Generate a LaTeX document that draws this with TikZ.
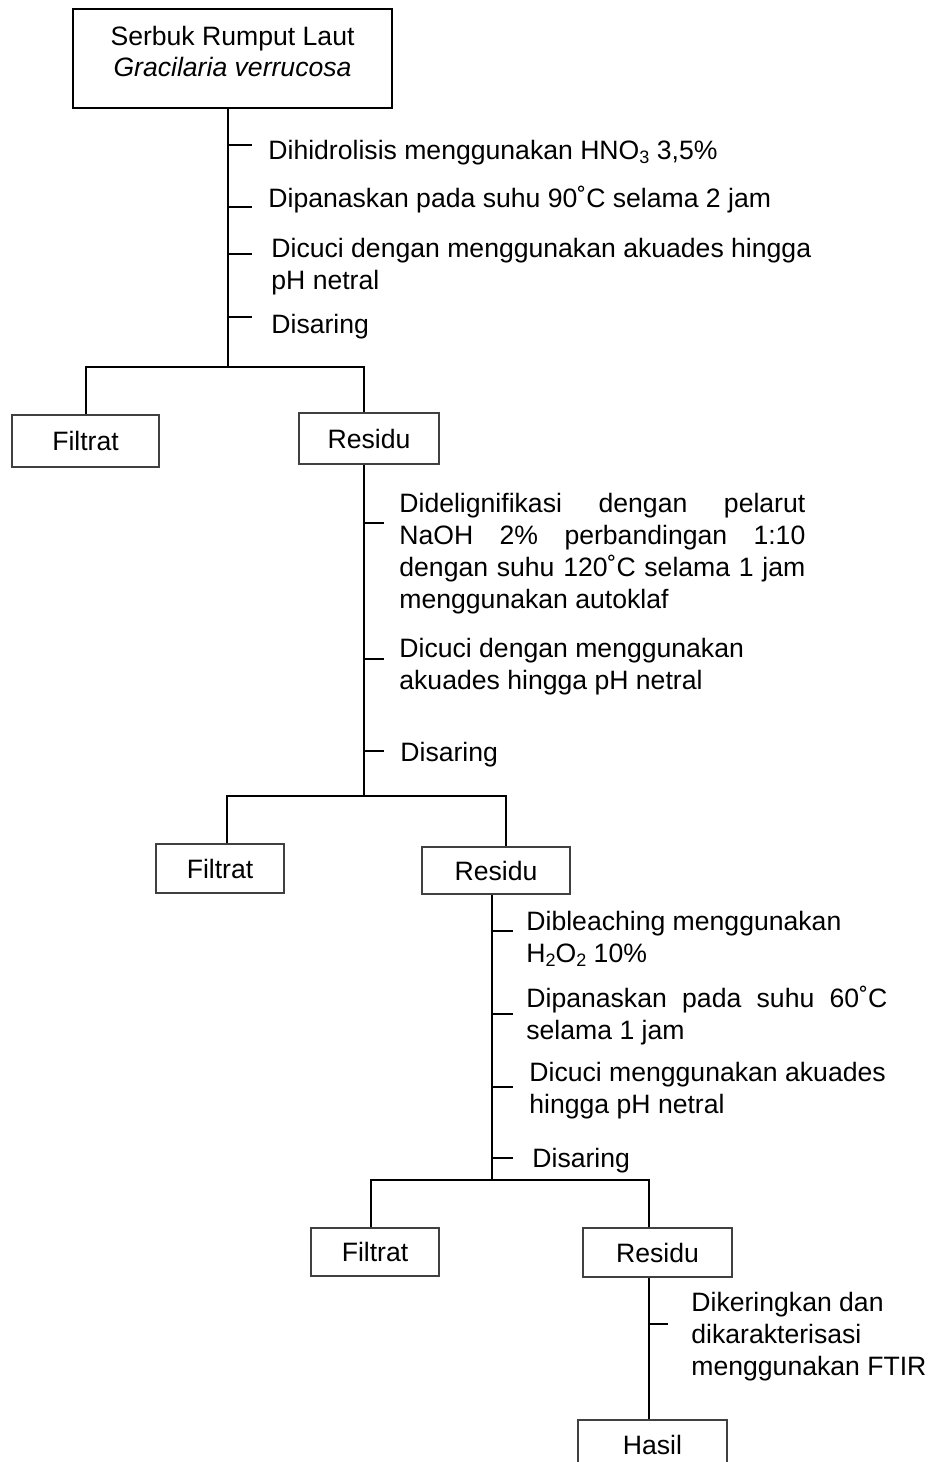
\documentclass[tikz,border=0pt]{standalone}
\usepackage{fontspec}
\setmainfont{Liberation Sans}
\usetikzlibrary{positioning, calc}
\tikzset{
  mainbox/.style={rectangle, draw=black, line width=1pt, minimum width=159.5pt, minimum height=49.5pt, align=center, font=\fontsize{13.3pt}{15.6pt}\selectfont},
  resultbox/.style={rectangle, draw=black!75, line width=0.6pt, minimum height=24.5pt, text centered, font=\fontsize{13.3pt}{16pt}\selectfont},
  stepnote/.style={anchor=west, inner sep=0pt, align=left, yshift=-1.5pt, font=\fontsize{13.3pt}{16pt}\selectfont},
  flowline/.style={line width=0.7pt, black},
}

\begin{document}
\begin{tikzpicture}[x=0.5pt, y=-0.5pt]
\useasboundingbox (0,0) rectangle (937,1462);

% boxes
\node[mainbox] (serbuk) at (232.5,58.5) {\raisebox{0pt}[\height][\dimexpr\depth+3.5pt\relax]{\begin{tabular}{@{}c@{}}Serbuk Rumput Laut\\\textit{Gracilaria verrucosa}\end{tabular}}};
\node[resultbox, minimum width=73.5pt, minimum height=26pt] (filtrat1) at (85.5,441) {Filtrat};
\node[resultbox, minimum width=70pt, minimum height=25.5pt] (residu1) at (369,438.5) {Residu};
\node[resultbox, minimum width=64pt] (filtrat2) at (220,868.5) {Filtrat};
\node[resultbox, minimum width=74pt, minimum height=23.5pt] (residu2) at (496,870.5) {Residu};
\node[resultbox, minimum width=64pt, minimum height=24pt] (filtrat3) at (375,1252) {Filtrat};
\node[resultbox, minimum width=74.5pt] (residu3) at (657.5,1252.5) {Residu};
\node[resultbox, minimum width=74.5pt] (hasil) at (652.5,1444.5) {Hasil};

% step notes
\node[stepnote] (hidrolisis) at (268,150) {Dihidrolisis menggunakan HNO{\fontsize{9pt}{9pt}\selectfont\raisebox{-2pt}{3}} 3,5\%};
\node[stepnote] (panas1) at (268,197) {Dipanaskan pada suhu 90˚C selama 2 jam};
\node[stepnote] (cuci1) at (271,263.5) {Dicuci dengan menggunakan akuades hingga\\pH netral};
\node[stepnote] (saring1) at (271,324) {Disaring};

\node[stepnote, text width=203pt, align=justify] (delignin) at (399,551) {Didelignifikasi dengan pelarut\linebreak NaOH 2\% perbandingan 1:10\linebreak dengan suhu 120˚C selama 1 jam\linebreak menggunakan autoklaf};
\node[stepnote] (cuci2) at (399,663.5) {Dicuci dengan menggunakan\\akuades hingga pH netral};
\node[stepnote] (saring2) at (400,752) {Disaring};

\node[stepnote] (bleach) at (526,935.5) {Dibleaching menggunakan\\H{\fontsize{9pt}{9pt}\selectfont\raisebox{-2pt}{2}}O{\fontsize{9pt}{9pt}\selectfont\raisebox{-2pt}{2}} 10\%};
\node[stepnote, text width=180.5pt, align=justify] (panas3) at (526,1012.5) {Dipanaskan pada suhu 60˚C\linebreak selama 1 jam};
\node[stepnote] (cuci3) at (529,1088) {Dicuci menggunakan akuades\\hingga pH netral};
\node[stepnote] (saring3) at (532,1158) {Disaring};

\node[stepnote] (kering) at (691,1334) {Dikeringkan dan\\dikarakterisasi\\menggunakan FTIR};

% splits
\coordinate (split1) at (228,367);
\coordinate (split2) at (364,796);
\coordinate (split3) at (492,1180);

\draw[flowline] (serbuk.south -| split1) -- (split1);
\draw[flowline] ([xshift=0.25pt]filtrat1.north) |- (split1) -| ([xshift=-2.5pt]residu1.north);
\draw[flowline] (residu1.south -| split2) -- (split2);
\draw[flowline] ([xshift=3.5pt]filtrat2.north) |- (split2) -| ([xshift=5pt]residu2.north);
\draw[flowline] (residu2.south -| split3) -- (split3);
\draw[flowline] ([xshift=-2pt]filtrat3.north) |- (split3) -| ([xshift=-4.25pt]residu3.north);
\draw[flowline] ([xshift=-4.25pt]residu3.south) -- ([xshift=-4.25pt]residu3.south |- hasil.north);

% ticks
\foreach \ty in {145,207,254,317}
  \draw[flowline] (split1 |- 0,\ty) -- ++(24,0);
\foreach \ty in {523,659,751}
  \draw[flowline] (split2 |- 0,\ty) -- ++(20,0);
\foreach \ty in {931,1014,1087,1158}
  \draw[flowline] (split3 |- 0,\ty) -- ++(21,0);
\draw[flowline] ([xshift=-4.25pt]residu3.south |- 0,1324) -- ++(19,0);
\end{tikzpicture}
\end{document}
